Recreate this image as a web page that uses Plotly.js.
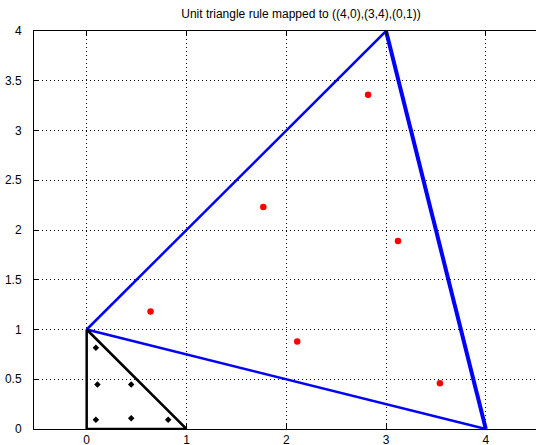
<!DOCTYPE html>
<html>
<head>
<meta charset="utf-8">
<script src="https://cdn.plot.ly/plotly-3.0.1.min.js"></script>
<style>html,body{margin:0;padding:0;background:#fff;overflow:hidden}</style>
</head>
<body>
<div id="chart" style="width:537px;height:445px"></div>
<script>
// Unit triangle vertices (closed)
const unitTriX = [0, 1, 0, 0];
const unitTriY = [0, 0, 1, 0];
// Mapped triangle vertices: (4,0),(3,4),(0,1)
const mapTriX = [4, 3, 0];
const mapTriY = [0, 4, 1];
// Quadrature points in the unit triangle
const unitPtsX = [0.092, 0.817, 0.092, 0.108, 0.446, 0.446];
const unitPtsY = [0.092, 0.092, 0.817, 0.446, 0.108, 0.446];
// Mapped quadrature points
const mapPtsX = [3.54, 2.82, 0.64, 2.11, 3.12, 1.77];
const mapPtsY = [0.46, 3.36, 1.18, 0.88, 1.89, 2.23];
// Tick values
const xTicks = [0, 1, 2, 3, 4];
const yTicks = [0, 0.5, 1, 1.5, 2, 2.5, 3, 3.5, 4];

const blue = '#0000ff';
const traces = [
  // upper-left edge (0,1)-(3,4)
  {x: [mapTriX[2], mapTriX[1]], y: [mapTriY[2], mapTriY[1]], mode: 'lines',
   line: {color: blue, width: 2.5}, hoverinfo: 'skip'},
  // lower edge (0,1)-(4,0)
  {x: [mapTriX[2], mapTriX[0]], y: [mapTriY[2], mapTriY[0]], mode: 'lines',
   line: {color: blue, width: 2.5}, hoverinfo: 'skip'},
  // right edge (4,0)-(3,4)
  {x: [mapTriX[0], mapTriX[1]], y: [mapTriY[0], mapTriY[1]], mode: 'lines',
   line: {color: blue, width: 4}, hoverinfo: 'skip'},
  {x: unitTriX, y: unitTriY, mode: 'lines',
   line: {color: '#000', width: 2.5}, hoverinfo: 'skip'},
  {x: unitPtsX, y: unitPtsY, mode: 'markers',
   marker: {color: '#000', size: 5, symbol: 'diamond'}},
  {x: mapPtsX, y: mapPtsY, mode: 'markers',
   marker: {color: '#ff0000', size: 6.5, symbol: 'circle'}}
];

const axisCommon = {
  showline: true, linecolor: '#000', linewidth: 1, mirror: 'ticks',
  ticks: 'inside', ticklen: 5, tickcolor: '#000', tickwidth: 1,
  showgrid: true, gridcolor: '#000', gridwidth: 1, griddash: '1px,3px',
  zeroline: false, tickfont: {family: 'Liberation Sans, Arial, sans-serif', size: 12, color: '#000'},
  fixedrange: true
};

const layout = {
  width: 537, height: 445,
  margin: {l: 34, r: 1, t: 31, b: 16, pad: 0},
  paper_bgcolor: '#fff', plot_bgcolor: '#fff',
  showlegend: false,
  title: {text: 'Unit triangle rule mapped to ((4,0),(3,4),(0,1))',
          font: {family: 'Liberation Sans, Arial, sans-serif', size: 12, color: '#000'},
          x: 0.5605, xref: 'container', xanchor: 'center', y: 0.968, yref: 'container', yanchor: 'middle'},
  xaxis: Object.assign({}, axisCommon, {range: [-0.528, 4.503], tickvals: xTicks, ticktext: xTicks.map(String)}),
  yaxis: Object.assign({}, axisCommon, {range: [0, 4], tickvals: yTicks, ticktext: yTicks.map(String), mirror: false, ticklabelstandoff: 9})
};

Plotly.newPlot('chart', traces, layout, {displayModeBar: false, staticPlot: true});
</script>
</body>
</html>
